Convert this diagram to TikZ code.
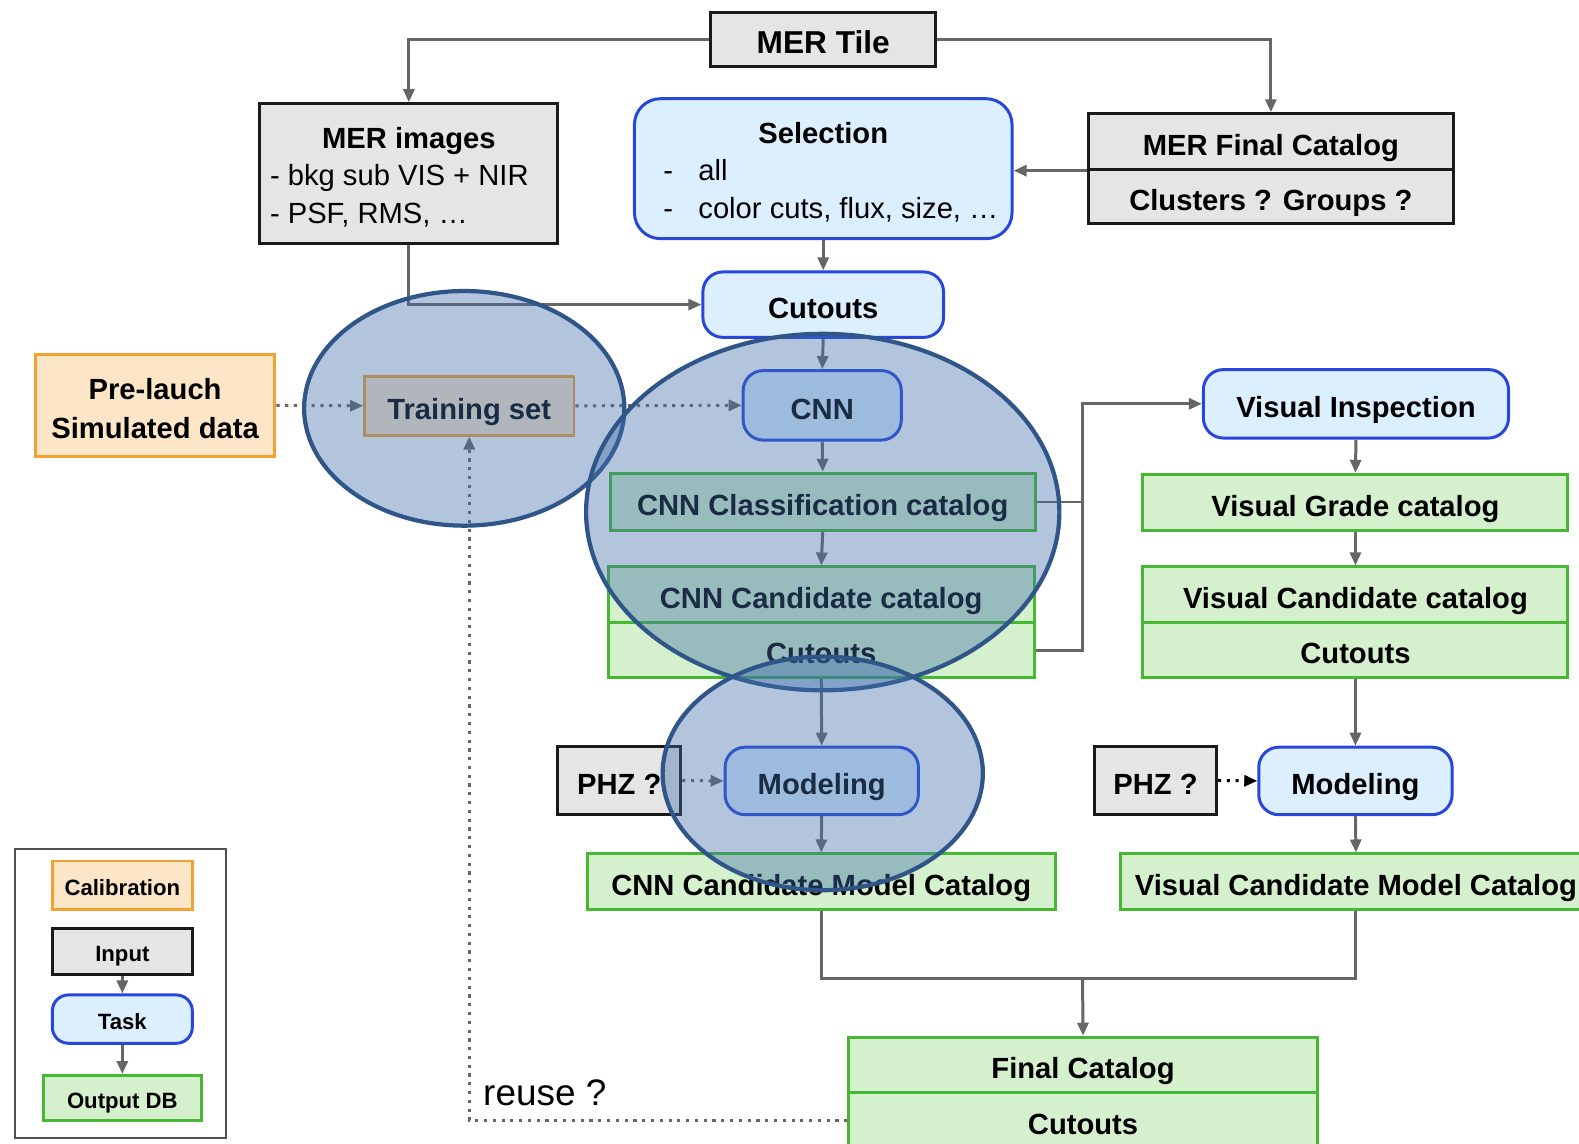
\documentclass[tikz,border=0pt]{standalone}
\usepackage{fontspec}
\setmainfont{Liberation Sans}
\usetikzlibrary{arrows.meta}
\definecolor{inpfill}{RGB}{229,229,229}
\definecolor{inpdraw}{RGB}{26,26,26}
\definecolor{taskfill}{RGB}{220,239,255}
\definecolor{taskdraw}{RGB}{40,70,220}
\definecolor{outfill}{RGB}{212,240,204}
\definecolor{outdraw}{RGB}{70,185,50}
\definecolor{calfill}{RGB}{253,229,200}
\definecolor{caldraw}{RGB}{245,160,48}
\definecolor{linec}{RGB}{102,102,102}
\definecolor{lensfill}{RGB}{64,110,170}
\definecolor{lensdraw}{RGB}{47,85,137}
\definecolor{legdraw}{RGB}{80,80,80}
\def\u{0.1007mm}
\newcommand\toprule[1]{\rule{0pt}{#1}}
\begin{document}
\begin{tikzpicture}[x=0.1007mm, y=-0.1007mm,
  base/.style={draw, line width=0.85pt, inner sep=0pt, align=center,
    font=\fontsize{8.3}{10.6}\selectfont\bfseries},
  sl/.style={text height=7.8pt, text depth=0pt},
  slleg/.style={text height=5.8pt, text depth=0pt},
  inp/.style={base, fill=inpfill, draw=inpdraw},
  task/.style={base, fill=taskfill, draw=taskdraw, rounded corners=2mm},
  outp/.style={base, fill=outfill, draw=outdraw},
  cal/.style={base, fill=calfill, draw=caldraw},
  wh/.style 2 args={minimum width=#1*\u, minimum height=#2*\u},
  legfont/.style={font=\fontsize{6.3}{7.5}\selectfont\bfseries, slleg},
  line/.style={draw=linec, line width=0.85pt},
  conn/.style={line, -{Triangle[length=1.3mm,width=1.1mm]}},
  dotc/.style={conn, dash pattern=on 0.9pt off 1.6pt},
  dotk/.style={draw=black, line width=0.85pt, dash pattern=on 0.9pt off 1.6pt,
    -{Triangle[length=1.3mm,width=1.1mm]}},
  lens/.style={draw=lensdraw, line width=1.2pt, fill=lensfill, fill opacity=0.4}]
\useasboundingbox (0,0) rectangle (1568,1136);

% top row
\node[inp, wh={223}{54}, font=\fontsize{9}{11}\selectfont\bfseries, text height=8.2pt, text depth=0pt] (tile) at (817.5,39) {MER Tile};
\node[inp, wh={296}{139}] (merimg) at (406,172.5)
  {\toprule{8pt}MER images\\ {\mdseries\makebox[79pt][l]{- bkg sub VIS + NIR}}\\ {\mdseries\makebox[79pt][l]{- PSF, RMS, …}}};
\node[task, wh={375}{139}, rounded corners=2.6mm] (sel) at (817.5,167.5)
  {\toprule{8pt}Selection\\ {\mdseries\makebox[91pt][l]{\makebox[10pt][l]{-}all}}\\
   {\mdseries\makebox[91pt][l]{\makebox[10pt][l]{-}color cuts, flux, size, …}}};
\node[inp, sl, wh={362}{55}] (mfc1) at (1262,140.5) {MER Final Catalog};
\node[inp, sl, wh={362}{54}] (mfc2) at (1262,195) {Clusters ? Groups ?};

\node[task, sl, wh={239}{65}] (cut) at (817.5,302.5) {Cutouts};

% left / training
\node[cal, wh={238}{101}, font=\fontsize{8.3}{11.2}\selectfont\bfseries] (pre) at (154,402.5) {\toprule{8pt}Pre-lauch\\Simulated data};
\node[cal, sl, wh={208}{58}] (train) at (466,403) {Training set};

% CNN branch
\node[task, sl, wh={157}{69}] (cnn) at (816.5,402.5) {CNN};
\node[outp, sl, wh={422}{57}] (cls) at (817,498.5) {CNN Classification catalog};
\node[outp, sl, wh={423}{55}] (cand1) at (815.5,590.5) {CNN Candidate catalog};
\node[outp, sl, wh={423}{55}] (cand2) at (815.5,645.5) {Cutouts};
\node[inp, sl, wh={122}{68}] (phz1) at (615,775) {PHZ ?};
\node[task, sl, wh={192}{67}] (mod1) at (816,775.5) {Modeling};
\node[outp, sl, wh={465}{55}] (cmc) at (815.5,875.5) {CNN Candidate Model Catalog};

% visual branch
\node[task, sl, wh={303}{68}] (vi) at (1346.5,401) {Visual Inspection};
\node[outp, sl, wh={422}{56}] (vg) at (1346,499) {Visual Grade catalog};
\node[outp, sl, wh={422}{55}] (vc1) at (1346,590.5) {Visual Candidate catalog};
\node[outp, sl, wh={422}{55}] (vc2) at (1346,645.5) {Cutouts};
\node[inp, sl, wh={121}{68}] (phz2) at (1147.5,775) {PHZ ?};
\node[task, sl, wh={192}{67}] (mod2) at (1346,775.5) {Modeling};
\node[outp, sl, wh={467}{55}] (vmc) at (1346.5,875.5) {Visual Candidate Model Catalog};

% final
\node[outp, sl, wh={465}{55}] (fin1) at (1075.5,1057.5) {Final Catalog};
\node[outp, sl, wh={465}{55}] (fin2) at (1075.5,1112.5) {Cutouts};
\node[font=\fontsize{10.5}{12}\selectfont] (reuse) at (541,1085) {reuse ?};

% legend
\node[draw=legdraw, line width=0.6pt, wh={209}{287}] (leg) at (119.5,986.5) {};
\node[cal, legfont, wh={139}{48}] (lcal) at (121.5,879) {Calibration};
\node[inp, legfont, wh={139}{46}] (linp) at (121.5,945) {Input};
\node[task, legfont, wh={139}{48}, rounded corners=1.6mm] (ltask) at (121.5,1012) {Task};
\node[outp, legfont, wh={157}{45}] (lout) at (121.5,1090.5) {Output DB};
\draw[conn] (linp.south) -- (ltask.north);
\draw[conn] (ltask.south) -- (lout.north);

% coordinates for junctions
\coordinate (jx) at (1075,401);
\coordinate (jm) at (1075,972);

% connectors
\draw[conn] (tile.west) -| (merimg.north);
\draw[conn] (tile.east) -| (mfc1.north);
\draw[conn] (mfc1.south west) -- (mfc1.south west -| sel.east);
\draw[conn] (sel.south) -- (cut.north);
\draw[conn] (merimg.south) |- (cut.west);
\draw[conn] (cut.south) -- (cnn.north);
\draw[conn] (cnn.south) -- (cls.north);
\draw[conn] (cls.south) -- (cand1.north);
\draw[conn] (cand2.south) -- (mod1.north);
\draw[conn] (mod1.south) -- (cmc.north);
\draw[line] (cls.east) -- (cls.east -| jx);
\draw[conn] (cand2.east) -| (jx) -- (vi.west);
\draw[conn] (vi.south) -- (vg.north);
\draw[conn] (vg.south) -- (vc1.north);
\draw[conn] (vc2.south) -- (mod2.north);
\draw[conn] (mod2.south) -- (vmc.north);
\draw[line] (cmc.south) |- (jm) -| (vmc.south);
\draw[conn] (jm) -- (fin1.north);
\draw[dotc] (pre.east) -- (train.west);
\draw[dotc] (train.east) -- (cnn.west);
\draw[dotc] (phz1.east) -- (mod1.west);
\draw[dotk] (phz2.east) -- (mod2.west);
\draw[dotc] (fin2.west) -| (train.south);

% highlight lenses
\draw[lens] (461,405.5) ellipse [x radius=159, y radius=116.5];
\draw[lens] (817,508.5) ellipse [x radius=235, y radius=177];
\draw[lens] (817,768) ellipse [x radius=159, y radius=116];
\end{tikzpicture}
\end{document}
